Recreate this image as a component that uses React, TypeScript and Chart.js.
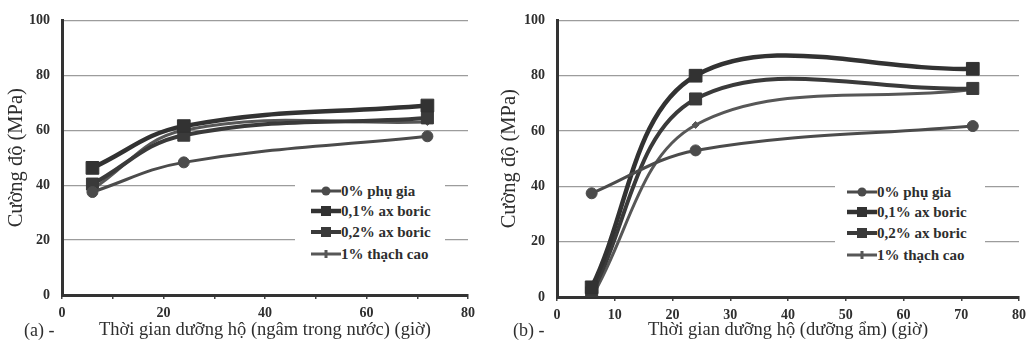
import React, { useEffect, useRef } from 'react';
import { Chart, registerables } from 'chart.js';
Chart.register(...registerables);

// ---------- data ----------
const hours = [6, 24, 72];
const seriesLabels = ['0% phụ gia', '0,1% ax boric', '0,2% ax boric', '1% thạch cao'];

// (a) water curing
const waterPlain = [37.5, 48.3, 57.8];
const waterBoric01 = [46.3, 61.5, 69];
const waterBoric02 = [40.4, 58.2, 64.5];
const waterGypsum = [38.5, 60, 63];

// (b) moist curing
const moistPlain = [37.5, 53, 61.8];
const moistBoric01 = [3.5, 80, 82.5];
const moistBoric02 = [1.5, 71.6, 75.4];
const moistGypsum = [0, 62.2, 75];

const yTickLabels = [0, 20, 40, 60, 80, 100];
const xTickLabelsA = [0, 20, 40, 60, 80];
const xTickLabelsB = [0, 10, 20, 30, 40, 50, 60, 70, 80];

const yTitle = 'Cường độ (MPa)';
const xTitleA = 'Thời gian dưỡng hộ (ngâm trong nước) (giờ)';
const xTitleB = 'Thời gian dưỡng hộ (dưỡng ẩm) (giờ)';

// ---------- styles ----------
const SERIF = '"Liberation Serif", "Times New Roman", serif';
const TEXT = '#2e2e2e';
const styles = [
  { color: '#4b4b4b', width: 3, point: 'circle', radius: 5.5 },
  { color: '#323232', width: 4.5, point: 'rect', radius: 9 },
  { color: '#3a3a3a', width: 4, point: 'rect', radius: 8.5 },
  { color: '#575757', width: 3, point: 'rectRot', radius: 3.5 },
];

type PanelProps = {
  left: number;
  width: number;
  yAxisWidth: number;
  padTop: number;
  padRight: number;
  xAxisHeight: number;
  series: number[][];
  xLabels: number[];
  xTitle: string;
  yTitlePad: number;
  tension: number;
};

function Panel(p: PanelProps) {
  const ref = useRef<HTMLCanvasElement | null>(null);
  useEffect(() => {
    if (!ref.current) return;
    const chart = new Chart(ref.current, {
      type: 'line',
      data: {
        datasets: p.series.map((vals, i) => ({
          label: seriesLabels[i],
          data: hours.map((h, j) => ({ x: h, y: vals[j] })),
          borderColor: styles[i].color,
          backgroundColor: styles[i].color,
          borderWidth: styles[i].width,
          pointStyle: styles[i].point as any,
          pointRadius: styles[i].radius,
          pointBorderWidth: 1,
          pointBorderColor: styles[i].color,
          pointBackgroundColor: styles[i].color,
          tension: p.tension,
          fill: false,
        })),
      },
      options: {
        animation: false,
        responsive: false,
        events: [],
        layout: { padding: { left: 0, top: p.padTop, right: p.padRight, bottom: 0 } },
        plugins: { legend: { display: false }, tooltip: { enabled: false } },
        scales: {
          x: {
            type: 'linear',
            min: 0,
            max: 80,
            ticks: {
              stepSize: 10,
              autoSkip: false,
              maxRotation: 0,
              padding: 6,
              color: TEXT,
              font: { family: SERIF, size: 14, weight: 'bold' },
              callback: (v: any) => (p.xLabels.includes(Number(v)) ? String(v) : ''),
            },
            grid: { drawOnChartArea: false, drawTicks: true, tickLength: 4, color: '#444', lineWidth: 1.5 },
            border: { color: '#333', width: 3 },
            title: {
              display: true,
              text: p.xTitle,
              color: TEXT,
              font: { family: SERIF, size: 18.5 },
              padding: { top: 0, bottom: 4 },
            },
            afterFit: (s: any) => {
              s.height = p.xAxisHeight;
            },
          },
          y: {
            min: 0,
            max: 100,
            afterBuildTicks: (s: any) => {
              s.ticks = yTickLabels.map((v) => ({ value: v }));
            },
            ticks: {
              padding: 12,
              color: TEXT,
              font: { family: SERIF, size: 14, weight: 'bold' },
            },
            grid: { color: '#9c9c9c', lineWidth: 1.2, drawTicks: false },
            border: { color: '#333', width: 3 },
            title: {
              display: true,
              text: yTitle,
              color: TEXT,
              font: { family: SERIF, size: 20.5 },
              padding: { top: p.yTitlePad, bottom: 0 },
            },
            afterFit: (s: any) => {
              s.width = p.yAxisWidth;
            },
          },
        },
      },
    } as any);
    return () => chart.destroy();
  }, []);
  return (
    <canvas
      ref={ref}
      width={p.width}
      height={345}
      style={{ position: 'absolute', left: p.left, top: 0, width: p.width, height: 345 }}
    />
  );
}

function LegendSample({ i }: { i: number }) {
  const s = styles[i];
  const cx = 15;
  const cy = 6;
  let marker: React.ReactNode = null;
  if (s.point === 'circle') marker = <circle cx={cx} cy={cy} r={4.5} fill={s.color} />;
  else if (s.point === 'rect') marker = <rect x={cx - 5} y={cy - 5} width={10} height={10} fill={s.color} />;
  else marker = <rect x={cx - 1.5} y={cy - 4} width={3} height={8} fill={s.color} />;
  return (
    <svg width={30} height={12} style={{ display: 'block' }}>
      <line x1={0} y1={cy} x2={30} y2={cy} stroke={s.color} strokeWidth={s.width} />
      {marker}
    </svg>
  );
}

function Legend({ left, top, sampleOffset }: { left: number; top: number; sampleOffset: number }) {
  const rowTops = [5, 25, 46, 68];
  return (
    <div style={{ position: 'absolute', left, top, width: 150, height: 88, background: '#fff' }}>
      {seriesLabels.map((lab, i) => (
        <div
          key={lab}
          style={{
            position: 'absolute',
            left: sampleOffset,
            top: rowTops[i],
            display: 'flex',
            alignItems: 'center',
            height: 14,
          }}
        >
          <LegendSample i={i} />
          <span
            style={{
              fontFamily: SERIF,
              fontWeight: 'bold',
              fontSize: 15,
              color: TEXT,
              whiteSpace: 'nowrap',
              lineHeight: '14px',
            }}
          >
            {lab}
          </span>
        </div>
      ))}
    </div>
  );
}

export default function App() {
  return (
    <div style={{ position: 'fixed', left: 0, top: 0, width: 1032, height: 345, background: '#fff', overflow: 'hidden' }}>
      <Panel
        left={0}
        width={490}
        yAxisWidth={62}
        padTop={13}
        padRight={22}
        xAxisHeight={50}
        series={[waterPlain, waterBoric01, waterBoric02, waterGypsum]}
        xLabels={xTickLabelsA}
        xTitle={xTitleA}
        yTitlePad={4}
        tension={0.4}
      />
      <Panel
        left={490}
        width={542}
        yAxisWidth={67}
        padTop={15}
        padRight={12}
        xAxisHeight={48}
        series={[moistPlain, moistBoric01, moistBoric02, moistGypsum]}
        xLabels={xTickLabelsB}
        xTitle={xTitleB}
        yTitlePad={7}
        tension={0.36}
      />
      <Legend left={295} top={179} sampleOffset={16} />
      <Legend left={835} top={180} sampleOffset={12} />
      <div style={{ position: 'absolute', left: 24, top: 320, fontFamily: SERIF, fontSize: 18, color: TEXT, whiteSpace: 'nowrap' }}>
        (a) -
      </div>
      <div style={{ position: 'absolute', left: 513, top: 320, fontFamily: SERIF, fontSize: 18, color: TEXT, whiteSpace: 'nowrap' }}>
        (b) -
      </div>
    </div>
  );
}
